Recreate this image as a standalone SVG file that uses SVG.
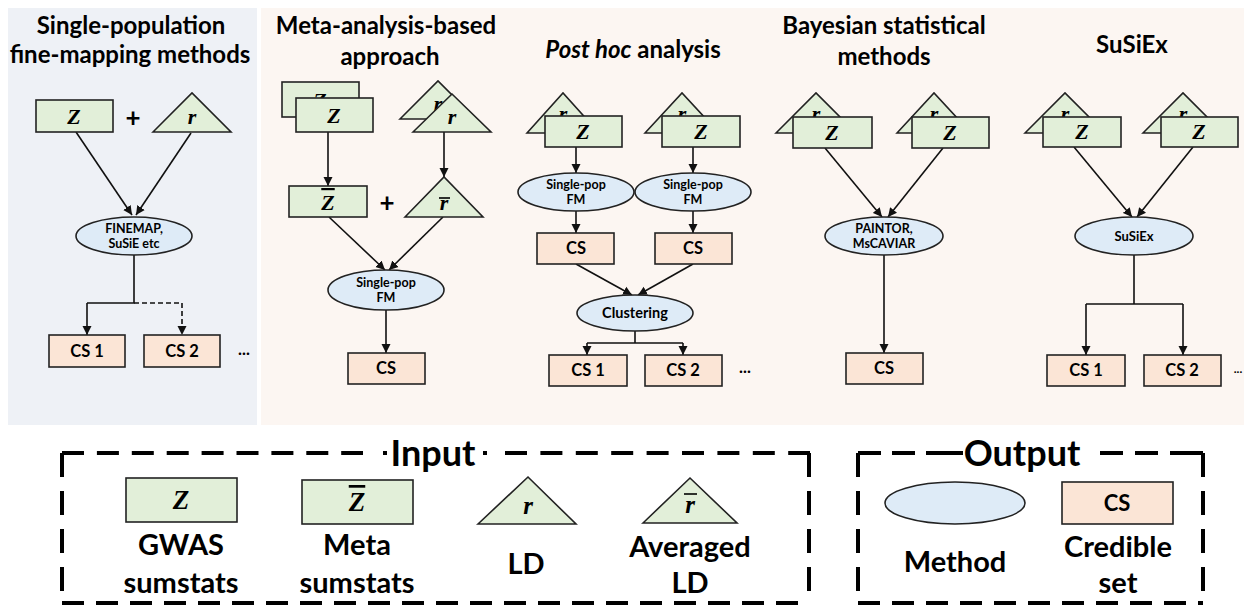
<svg xmlns="http://www.w3.org/2000/svg" width="1244" height="607" viewBox="0 0 1244 607">
<style>
.sh{stroke:#222;stroke-width:1.6}
.g{fill:#e2efd9}.p{fill:#fbe5d6}.b{fill:#deebf7}
text{font-family:Lato,"Open Sans",sans-serif;font-weight:bold;fill:#000;text-anchor:middle}
.t{font-size:24px}
.m{font-family:"Liberation Serif",serif;font-style:italic;font-size:22px}
.ml{font-family:"Liberation Serif",serif;font-style:italic;font-size:27px}
.mr{font-family:"Liberation Serif",serif;font-style:italic;font-size:25px}
.ov{text-decoration:overline}
.s{font-size:12.5px}
.cs{font-size:16.5px}
.lg{font-size:29px}
.hd{font-size:36px}
.c{fill:none;stroke:#111;stroke-width:1.6}
.ca{fill:none;stroke:#111;stroke-width:1.6;marker-end:url(#ah)}
.d{stroke-dasharray:5 3}
.bd{fill:none;stroke:#000;stroke-width:4}
.bar{stroke:#000;stroke-width:1.6}
</style>
<defs>
<marker id="ah" markerUnits="userSpaceOnUse" markerWidth="10" markerHeight="10" refX="9" refY="5" orient="auto">
<path d="M0,0.5 L9,5 L0,9.5 z" fill="#111"/>
</marker>
</defs>

<rect x="8" y="8" width="249" height="417" fill="#eef1f6"/>
<rect x="261" y="8" width="983" height="417" fill="#fcf6f2"/>

<g id="titles">
<text class="t" x="131" y="34">Single-population</text>
<text class="t" x="130" y="63">fine-mapping methods</text>
<text class="t" x="386" y="34">Meta-analysis-based</text>
<text class="t" x="390" y="65">approach</text>
<text class="t" x="633" y="58"><tspan font-style="italic">Post hoc</tspan> analysis</text>
<text class="t" x="884" y="34">Bayesian statistical</text>
<text class="t" x="884" y="65">methods</text>
<text class="t" x="1132" y="53">SuSiEx</text>
</g>

<g id="connectors">
<path class="ca" d="M76,132 L132,215"/>
<path class="ca" d="M191,133 L136,215"/>
<path class="c" d="M134,255 V303 H87"/>
<path class="ca" d="M87,303 V335"/>
<path class="c d" d="M134,303 H182"/>
<path class="ca d" d="M182,303 V335"/>

<path class="ca" d="M328,132 V186"/>
<path class="ca" d="M444,132 V177"/>
<path class="ca" d="M329,217 L385,270"/>
<path class="ca" d="M443,217 L389,270"/>
<path class="ca" d="M386,310 V353"/>

<path class="ca" d="M576,147 V173"/>
<path class="ca" d="M693,147 V173"/>
<path class="ca" d="M576,211 V233"/>
<path class="ca" d="M693,211 V233"/>
<path class="ca" d="M576,264 L632,295"/>
<path class="ca" d="M693,264 L638,295"/>
<path class="c" d="M635,331 V343 M587,343 H683"/>
<path class="ca" d="M587,343 V355"/>
<path class="ca" d="M683,343 V355"/>

<path class="ca" d="M825,148 L882,217"/>
<path class="ca" d="M943,148 L888,217"/>
<path class="ca" d="M884,255 V353"/>

<path class="ca" d="M1074,147 L1132,217"/>
<path class="ca" d="M1193,147 L1137,217"/>
<path class="c" d="M1134,255 V304 M1086,304 H1183"/>
<path class="ca" d="M1086,304 V355"/>
<path class="ca" d="M1183,304 V355"/>
</g>

<!-- Panel 1 -->
<g id="p1-z"><rect class="sh g" x="36" y="100" width="77" height="32"/><text class="m" x="74" y="124">Z</text></g>
<g id="p1-plus"><text style="font-size:26px" x="133" y="127">+</text></g>
<g id="p1-r"><polygon class="sh g" points="153,132 192,93 231,132"/><text class="m" x="192" y="124">r</text></g>
<g id="p1-method"><ellipse class="sh b" cx="134" cy="236" rx="58" ry="19"/><text class="s" x="134" y="233">FINEMAP,</text><text class="s" x="134" y="248">SuSiE etc</text></g>
<g id="p1-cs1"><rect class="sh p" x="49" y="335" width="76" height="32"/><text class="cs" x="87" y="357">CS 1</text></g>
<g id="p1-cs2"><rect class="sh p" x="144" y="335" width="76" height="32"/><text class="cs" x="182" y="357">CS 2</text></g>
<g id="p1-more"><text class="cs" x="244" y="355">...</text></g>

<!-- Panel 2 -->
<g id="p2-z"><rect class="sh g" x="282" y="82" width="77" height="35"/><text class="m" x="320" y="108">Z</text><rect class="sh g" x="296" y="98" width="77" height="34"/><text class="m" x="334" y="123">Z</text></g>
<g id="p2-r"><polygon class="sh g" points="400,119 438,81 476,119"/><text class="m" x="438" y="111">r</text><polygon class="sh g" points="413,132 452,94 491,132"/><text class="m" x="452" y="124">r</text></g>
<g id="p2-zbar"><rect class="sh g" x="289" y="186" width="78" height="31"/><text class="m ov" x="328" y="210">Z</text></g>
<g id="p2-plus"><text style="font-size:26px" x="387" y="212">+</text></g>
<g id="p2-rbar"><polygon class="sh g" points="405,217 444,177 483,217"/><line class="bar" x1="439" y1="198" x2="450" y2="198"/><text class="m" x="444" y="210">r</text></g>
<g id="p2-method"><ellipse class="sh b" cx="386" cy="290" rx="58" ry="20"/><text class="s" x="386" y="287">Single-pop</text><text class="s" x="386" y="302">FM</text></g>
<g id="p2-cs"><rect class="sh p" x="348" y="353" width="77" height="31"/><text class="cs" x="386" y="374">CS</text></g>

<!-- Panel 3 -->
<g id="p3-in1"><polygon class="sh g" points="527,133 563,93 599,133"/><text class="m" x="563" y="121">r</text><rect class="sh g" x="545" y="116" width="77" height="31"/><text class="m" x="583" y="139">Z</text></g>
<g id="p3-in2"><polygon class="sh g" points="645,133 682,93 719,133"/><text class="m" x="682" y="121">r</text><rect class="sh g" x="662" y="116" width="78" height="31"/><text class="m" x="701" y="139">Z</text></g>
<g id="p3-m1"><ellipse class="sh b" cx="576" cy="192" rx="58" ry="19"/><text class="s" x="576" y="189">Single-pop</text><text class="s" x="576" y="204">FM</text></g>
<g id="p3-m2"><ellipse class="sh b" cx="693" cy="192" rx="58" ry="19"/><text class="s" x="693" y="189">Single-pop</text><text class="s" x="693" y="204">FM</text></g>
<g id="p3-cs-a"><rect class="sh p" x="537" y="233" width="77" height="31"/><text class="cs" x="576" y="254">CS</text></g>
<g id="p3-cs-b"><rect class="sh p" x="655" y="233" width="77" height="31"/><text class="cs" x="693" y="254">CS</text></g>
<g id="p3-cluster"><ellipse class="sh b" cx="635" cy="313" rx="58" ry="18"/><text style="font-size:14.5px" x="635" y="318">Clustering</text></g>
<g id="p3-cs1"><rect class="sh p" x="549" y="355" width="78" height="31"/><text class="cs" x="588" y="376">CS 1</text></g>
<g id="p3-cs2"><rect class="sh p" x="645" y="355" width="77" height="31"/><text class="cs" x="683" y="376">CS 2</text></g>
<g id="p3-more"><text class="cs" x="745" y="373">...</text></g>

<!-- Panel 4 -->
<g id="p4-in1"><polygon class="sh g" points="776,133 816,93 856,133"/><text class="m" x="816" y="121">r</text><rect class="sh g" x="793" y="117" width="79" height="31"/><text class="m" x="832" y="140">Z</text></g>
<g id="p4-in2"><polygon class="sh g" points="897,133 934,93 971,133"/><text class="m" x="934" y="121">r</text><rect class="sh g" x="912" y="117" width="77" height="31"/><text class="m" x="950" y="140">Z</text></g>
<g id="p4-method"><ellipse class="sh b" cx="884" cy="236" rx="59" ry="19"/><text class="s" x="884" y="233">PAINTOR,</text><text class="s" x="884" y="248">MsCAVIAR</text></g>
<g id="p4-cs"><rect class="sh p" x="846" y="353" width="77" height="31"/><text class="cs" x="884" y="374">CS</text></g>

<!-- Panel 5 -->
<g id="p5-in1"><polygon class="sh g" points="1025,133 1065,93 1105,133"/><text class="m" x="1065" y="121">r</text><rect class="sh g" x="1043" y="117" width="78" height="30"/><text class="m" x="1082" y="139">Z</text></g>
<g id="p5-in2"><polygon class="sh g" points="1143,133 1183,93 1223,133"/><text class="m" x="1183" y="121">r</text><rect class="sh g" x="1161" y="117" width="77" height="30"/><text class="m" x="1199" y="139">Z</text></g>
<g id="p5-method"><ellipse class="sh b" cx="1134" cy="236" rx="59" ry="19"/><text style="font-size:13px" x="1134" y="241">SuSiEx</text></g>
<g id="p5-cs1"><rect class="sh p" x="1047" y="355" width="78" height="31"/><text class="cs" x="1086" y="376">CS 1</text></g>
<g id="p5-cs2"><rect class="sh p" x="1144" y="355" width="77" height="31"/><text class="cs" x="1182" y="376">CS 2</text></g>
<g id="p5-more"><text style="font-size:12px" x="1238" y="373" text-anchor="end">...</text></g>

<!-- Legend: Input -->
<g id="legend-input">
<path class="bd" d="M62,453 H363" stroke-dasharray="22 12.9"/>
<rect x="383" y="451" width="4" height="4"/>
<rect x="483" y="451" width="4" height="4"/>
<path class="bd" d="M505,453 H810" stroke-dasharray="22 13.4"/>
<path class="bd" d="M62,453 V603" stroke-dasharray="24 14"/>
<path class="bd" d="M809,453 V603" stroke-dasharray="24 14"/>
<path class="bd" d="M62,603 H810" stroke-dasharray="22 12"/>
<text class="hd" x="433" y="466">Input</text>
</g>
<g id="lg-z"><rect class="sh g" x="126" y="478" width="111" height="44"/><text class="ml" x="181" y="509">Z</text><text class="lg" x="181" y="555">GWAS</text><text class="lg" x="181" y="593">sumstats</text></g>
<g id="lg-zbar"><rect class="sh g" x="302" y="480" width="111" height="44"/><text class="ml ov" x="357" y="511">Z</text><text class="lg" x="357" y="555">Meta</text><text class="lg" x="357" y="593">sumstats</text></g>
<g id="lg-r"><polygon class="sh g" points="478,524 528,477 576,524"/><text class="mr" x="528" y="514">r</text><text class="lg" x="526" y="574">LD</text></g>
<g id="lg-rbar"><polygon class="sh g" points="643,523 690,478 737,523"/><line class="bar" x1="684" y1="494" x2="697" y2="494"/><text class="mr" x="690" y="513">r</text><text class="lg" x="690" y="557">Averaged</text><text class="lg" x="690" y="593">LD</text></g>

<!-- Legend: Output -->
<g id="legend-output">
<path class="bd" d="M858,453 H963" stroke-dasharray="23 11 23 11 37"/>
<path class="bd" d="M1100,453 H1203" stroke-dasharray="23 12 23 12 33"/>
<path class="bd" d="M858,453 V603" stroke-dasharray="24 14"/>
<path class="bd" d="M1203,453 V603" stroke-dasharray="24 14"/>
<path class="bd" d="M858,603 H1203" stroke-dasharray="22 12"/>
<text class="hd" x="1022" y="466">Output</text>
</g>
<g id="lg-method"><ellipse class="sh b" cx="955" cy="503" rx="70" ry="21"/><text class="lg" x="955" y="572">Method</text></g>
<g id="lg-cs"><rect class="sh p" x="1062" y="482" width="111" height="42"/><text style="font-size:22px" x="1117" y="511">CS</text><text class="lg" x="1118" y="557">Credible</text><text class="lg" x="1118" y="593">set</text></g>
</svg>
